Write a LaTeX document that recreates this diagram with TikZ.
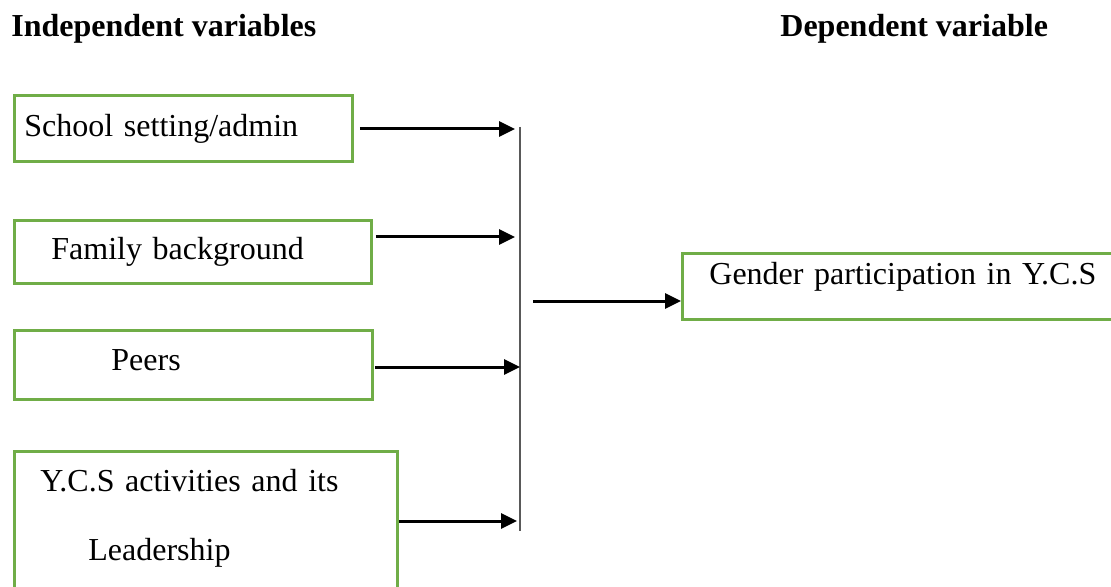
\documentclass[tikz,border=0pt]{standalone}
\usepackage{fontspec}
\setmainfont{Liberation Serif}
\usepackage{tikz}
\usetikzlibrary{arrows.meta,positioning}
\definecolor{boxgreen}{HTML}{70AD47}

\begin{document}
\begin{tikzpicture}[x=0.5pt,y=-0.5pt,
	box/.style={draw=boxgreen,line width=1.4pt,anchor=north west,inner xsep=0pt,inner ysep=0pt,align=left,font={\fontsize{16}{34.5}\selectfont}},
	heading/.style={anchor=base west,inner sep=0pt,font={\fontsize{16}{19}\selectfont\bfseries}},
	link/.style={-{Triangle[length=8pt,width=7.5pt]},line width=1.5pt},
	bar/.style={draw=black!65,line width=0.9pt}]
	\useasboundingbox (0,0) rectangle (1111,587);
	\clip (0,0) rectangle (1111,587);

	\node[heading] (indep) at (11,37) {Independent variables};
	\node[heading] (dep) at (780,37) {Dependent variable};

	\node[box,text width=169pt,text height=20.5pt,text depth=12.5pt] (school) at (13,94) {\hspace*{5pt}School setting/admin};
	\node[box,text width=178.5pt,text height=19.5pt,text depth=12pt] (family) at (13,219) {\hspace*{18.5pt}Family background};
	\node[box,text width=179pt,text height=20pt,text depth=14.5pt] (peers) at (13,329) {\hspace*{48.5pt}Peers};
	\node[box,text width=191.5pt,text height=20pt,text depth=60pt] (ycs) at (13,450) {\hspace*{13pt}Y.C.S activities and its\\\hspace*{37pt}Leadership};
	\node[box,text width=220pt,text height=15.5pt,text depth=17.5pt] (gender) at (681,252) {\hspace*{13.5pt}Gender participation in Y.C.S};

	% the collecting line
	\coordinate (top) at (520,127);
	\coordinate (bot) at (520,531);
	\coordinate (in1) at (515,129);
	\coordinate (in2) at (515,237);
	\coordinate (in3) at (520,367);
	\coordinate (in4) at (517,521);
	\coordinate (out) at (533,301);
	\draw[bar] (top) -- (bot);

	\draw[link,shorten <=3pt] (school.east |- in1) -- (in1);
	\draw[link,shorten <=1.5pt] (family.east |- in2) -- (in2);
	\draw[link,shorten <=0.5pt] (peers.east |- in3) -- (in3);
	\draw[link] (ycs.east |- in4) -- (in4);
	\draw[link] (out) -- (gender.west |- out);
\end{tikzpicture}
\end{document}
